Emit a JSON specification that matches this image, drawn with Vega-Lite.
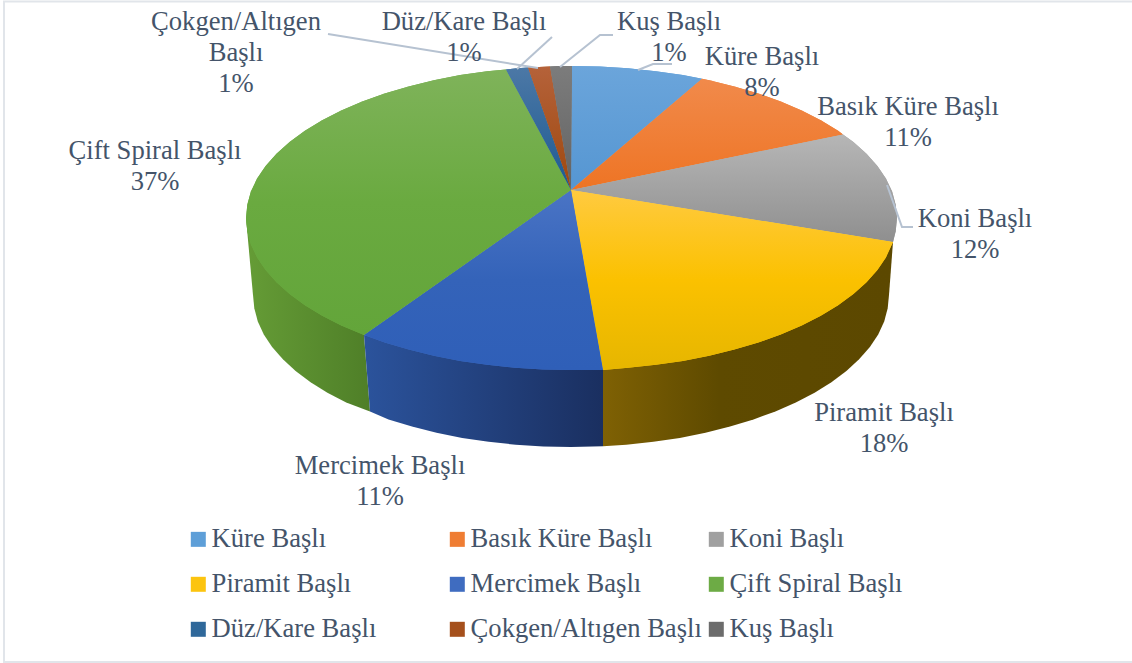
{"$schema":"https://vega.github.io/schema/vega-lite/v6.json","width":1132,"height":663,"padding":0,"autosize":{"type":"none"},"background":"white","config":{"view":{"stroke":null},"font":"Liberation Serif"},
"datasets":{
"walls":[
{"s":"Çift","n":1,"x":246,"y":218},{"s":"Çift","n":2,"x":253,"y":295},{"s":"Çift","n":3,"x":254.3,"y":308.2},{"s":"Çift","n":4,"x":257.8,"y":321.4},{"s":"Çift","n":5,"x":263.8,"y":334.4},{"s":"Çift","n":6,"x":272.1,"y":347},{"s":"Çift","n":7,"x":282.9,"y":359.3},{"s":"Çift","n":8,"x":295.6,"y":371},{"s":"Çift","n":9,"x":310.6,"y":382.2},{"s":"Çift","n":10,"x":327.4,"y":392.7},{"s":"Çift","n":11,"x":346.2,"y":402.5},{"s":"Çift","n":12,"x":370,"y":411.5},{"s":"Çift","n":13,"x":364,"y":335},
{"s":"Mercimek","n":1,"x":364,"y":335},{"s":"Mercimek","n":2,"x":370,"y":411.5},{"s":"Mercimek","n":3,"x":388.5,"y":419.5},{"s":"Mercimek","n":4,"x":412,"y":426.6},{"s":"Mercimek","n":5,"x":436.5,"y":432.7},{"s":"Mercimek","n":6,"x":462.2,"y":437.9},{"s":"Mercimek","n":7,"x":488.6,"y":441.8},{"s":"Mercimek","n":8,"x":515.7,"y":444.7},{"s":"Mercimek","n":9,"x":543.3,"y":446.4},{"s":"Mercimek","n":10,"x":571,"y":447},{"s":"Mercimek","n":11,"x":603,"y":446.2},{"s":"Mercimek","n":12,"x":603,"y":370},
{"s":"Piramit","n":1,"x":603,"y":370},{"s":"Piramit","n":2,"x":603,"y":446.2},{"s":"Piramit","n":3,"x":626.3,"y":444.7},{"s":"Piramit","n":4,"x":653.4,"y":441.8},{"s":"Piramit","n":5,"x":679.8,"y":437.9},{"s":"Piramit","n":6,"x":705.5,"y":432.7},{"s":"Piramit","n":7,"x":730,"y":426.6},{"s":"Piramit","n":8,"x":753.5,"y":419.5},{"s":"Piramit","n":9,"x":775.4,"y":411.4},{"s":"Piramit","n":10,"x":795.8,"y":402.5},{"s":"Piramit","n":11,"x":814.6,"y":392.7},{"s":"Piramit","n":12,"x":831.4,"y":382.2},{"s":"Piramit","n":13,"x":846.4,"y":371},{"s":"Piramit","n":14,"x":859.1,"y":359.3},{"s":"Piramit","n":15,"x":869.9,"y":347},{"s":"Piramit","n":16,"x":878.2,"y":334.4},{"s":"Piramit","n":17,"x":884.2,"y":321.4},{"s":"Piramit","n":18,"x":887.7,"y":308.2},{"s":"Piramit","n":19,"x":889,"y":295},{"s":"Piramit","n":20,"x":893,"y":242}
],
"tops":[
{"s":"Küre Başlı","n":0,"x":571,"y":190},{"s":"Küre Başlı","n":1,"x":572,"y":66},{"s":"Küre Başlı","n":2,"x":599.8,"y":66.6},{"s":"Küre Başlı","n":3,"x":628,"y":68.3},{"s":"Küre Başlı","n":4,"x":655.8,"y":71.2},{"s":"Küre Başlı","n":5,"x":682.8,"y":75.1},{"s":"Küre Başlı","n":6,"x":702,"y":78.8},
{"s":"Basık Küre Başlı","n":0,"x":571,"y":190},{"s":"Basık Küre Başlı","n":1,"x":702,"y":78.8},{"s":"Basık Küre Başlı","n":2,"x":709.2,"y":80.3},{"s":"Basık Küre Başlı","n":3,"x":734.3,"y":86.4},{"s":"Basık Küre Başlı","n":4,"x":758.3,"y":93.5},{"s":"Basık Küre Başlı","n":5,"x":780.7,"y":101.6},{"s":"Basık Küre Başlı","n":6,"x":801.7,"y":110.5},{"s":"Basık Küre Başlı","n":7,"x":820.8,"y":120.3},{"s":"Basık Küre Başlı","n":8,"x":838.1,"y":130.8},{"s":"Basık Küre Başlı","n":9,"x":843,"y":134.5},
{"s":"Koni Başlı","n":0,"x":571,"y":190},{"s":"Koni Başlı","n":1,"x":843,"y":134.5},{"s":"Koni Başlı","n":2,"x":853.4,"y":142},{"s":"Koni Başlı","n":3,"x":866.5,"y":153.7},{"s":"Koni Başlı","n":4,"x":877.4,"y":166},{"s":"Koni Başlı","n":5,"x":885.9,"y":178.6},{"s":"Koni Başlı","n":6,"x":892.1,"y":191.6},{"s":"Koni Başlı","n":7,"x":895.7,"y":204.8},{"s":"Koni Başlı","n":8,"x":897,"y":218},{"s":"Koni Başlı","n":9,"x":895.7,"y":231.2},{"s":"Koni Başlı","n":10,"x":893,"y":242},
{"s":"Piramit Başlı","n":0,"x":571,"y":190},{"s":"Piramit Başlı","n":1,"x":893,"y":242},{"s":"Piramit Başlı","n":2,"x":885.9,"y":257.4},{"s":"Piramit Başlı","n":3,"x":877.4,"y":270},{"s":"Piramit Başlı","n":4,"x":866.5,"y":282.3},{"s":"Piramit Başlı","n":5,"x":853.4,"y":294},{"s":"Piramit Başlı","n":6,"x":838.1,"y":305.2},{"s":"Piramit Başlı","n":7,"x":820.8,"y":315.7},{"s":"Piramit Başlı","n":8,"x":801.7,"y":325.5},{"s":"Piramit Başlı","n":9,"x":780.7,"y":334.4},{"s":"Piramit Başlı","n":10,"x":758.3,"y":342.5},{"s":"Piramit Başlı","n":11,"x":734.3,"y":349.6},{"s":"Piramit Başlı","n":12,"x":709.2,"y":355.7},{"s":"Piramit Başlı","n":13,"x":682.8,"y":360.9},{"s":"Piramit Başlı","n":14,"x":655.8,"y":364.8},{"s":"Piramit Başlı","n":15,"x":628,"y":367.7},{"s":"Piramit Başlı","n":16,"x":603,"y":370},
{"s":"Mercimek Başlı","n":0,"x":571,"y":190},{"s":"Mercimek Başlı","n":1,"x":603,"y":370},{"s":"Mercimek Başlı","n":2,"x":571.5,"y":370},{"s":"Mercimek Başlı","n":3,"x":543.2,"y":369.4},{"s":"Mercimek Başlı","n":4,"x":515,"y":367.7},{"s":"Mercimek Başlı","n":5,"x":487.2,"y":364.8},{"s":"Mercimek Başlı","n":6,"x":460.2,"y":360.9},{"s":"Mercimek Başlı","n":7,"x":433.8,"y":355.7},{"s":"Mercimek Başlı","n":8,"x":408.7,"y":349.6},{"s":"Mercimek Başlı","n":9,"x":384.7,"y":342.5},{"s":"Mercimek Başlı","n":10,"x":364,"y":335},
{"s":"Çift Spiral Başlı","n":0,"x":571,"y":190},{"s":"Çift Spiral Başlı","n":1,"x":364,"y":335},{"s":"Çift Spiral Başlı","n":2,"x":341.3,"y":325.5},{"s":"Çift Spiral Başlı","n":3,"x":322.2,"y":315.7},{"s":"Çift Spiral Başlı","n":4,"x":304.9,"y":305.2},{"s":"Çift Spiral Başlı","n":5,"x":289.6,"y":294},{"s":"Çift Spiral Başlı","n":6,"x":276.5,"y":282.3},{"s":"Çift Spiral Başlı","n":7,"x":265.6,"y":270},{"s":"Çift Spiral Başlı","n":8,"x":257.1,"y":257.4},{"s":"Çift Spiral Başlı","n":9,"x":250.9,"y":244.4},{"s":"Çift Spiral Başlı","n":10,"x":247.3,"y":231.2},{"s":"Çift Spiral Başlı","n":11,"x":246,"y":218},{"s":"Çift Spiral Başlı","n":12,"x":247.3,"y":204.8},{"s":"Çift Spiral Başlı","n":13,"x":250.9,"y":191.6},{"s":"Çift Spiral Başlı","n":14,"x":257.1,"y":178.6},{"s":"Çift Spiral Başlı","n":15,"x":265.6,"y":166},{"s":"Çift Spiral Başlı","n":16,"x":276.5,"y":153.7},{"s":"Çift Spiral Başlı","n":17,"x":289.6,"y":142},{"s":"Çift Spiral Başlı","n":18,"x":304.9,"y":130.8},{"s":"Çift Spiral Başlı","n":19,"x":322.2,"y":120.3},{"s":"Çift Spiral Başlı","n":20,"x":341.3,"y":110.5},{"s":"Çift Spiral Başlı","n":21,"x":362.3,"y":101.6},{"s":"Çift Spiral Başlı","n":22,"x":384.7,"y":93.5},{"s":"Çift Spiral Başlı","n":23,"x":408.7,"y":86.4},{"s":"Çift Spiral Başlı","n":24,"x":433.8,"y":80.3},{"s":"Çift Spiral Başlı","n":25,"x":460.2,"y":75.1},{"s":"Çift Spiral Başlı","n":26,"x":487.2,"y":71.2},{"s":"Çift Spiral Başlı","n":27,"x":506,"y":69.5},
{"s":"Düz/Kare Başlı","n":0,"x":571,"y":190},{"s":"Düz/Kare Başlı","n":1,"x":506,"y":69.5},{"s":"Düz/Kare Başlı","n":2,"x":517,"y":68.2},{"s":"Düz/Kare Başlı","n":3,"x":528,"y":67.5},
{"s":"Çokgen/Altıgen Başlı","n":0,"x":571,"y":190},{"s":"Çokgen/Altıgen Başlı","n":1,"x":528,"y":67.5},{"s":"Çokgen/Altıgen Başlı","n":2,"x":539,"y":66.9},{"s":"Çokgen/Altıgen Başlı","n":3,"x":550,"y":66.5},
{"s":"Kuş Başlı","n":0,"x":571,"y":190},{"s":"Kuş Başlı","n":1,"x":550,"y":66.5},{"s":"Kuş Başlı","n":2,"x":561,"y":66.1},{"s":"Kuş Başlı","n":3,"x":572,"y":66}
],
"leaders":[
{"s":"Kuş","n":1,"x":613,"y":35},{"s":"Kuş","n":2,"x":600,"y":35},{"s":"Kuş","n":3,"x":560,"y":67},
{"s":"Düz","n":1,"x":552,"y":37},{"s":"Düz","n":2,"x":517,"y":69},
{"s":"Çokgen","n":1,"x":328,"y":34},{"s":"Çokgen","n":2,"x":538,"y":68},
{"s":"Küre","n":1,"x":672,"y":64},{"s":"Küre","n":2,"x":653,"y":64},{"s":"Küre","n":3,"x":638,"y":70},
{"s":"Koni","n":1,"x":887,"y":185},{"s":"Koni","n":2,"x":902,"y":227},{"s":"Koni","n":3,"x":913,"y":227}
],
"borders":[
{"s":"a","n":1,"x":1132,"y":1.5},{"s":"a","n":2,"x":4,"y":1.5},{"s":"a","n":3,"x":4,"y":662},{"s":"a","n":4,"x":1132,"y":662}
],
"labels":[
{"t":"Çokgen/Altıgen\nBaşlı\n1%","x":236,"y":22},
{"t":"Düz/Kare Başlı\n1%","x":464,"y":22},
{"t":"Kuş Başlı\n1%","x":669,"y":22},
{"t":"Küre Başlı\n8%","x":762,"y":57},
{"t":"Basık Küre Başlı\n11%","x":908,"y":107},
{"t":"Koni Başlı\n12%","x":975,"y":219},
{"t":"Piramit Başlı\n18%","x":884,"y":413},
{"t":"Mercimek Başlı\n11%","x":380,"y":466},
{"t":"Çift Spiral Başlı\n37%","x":155,"y":151}
]},
"encoding":{"x":{"field":"x","type":"quantitative","axis":null,"scale":{"domain":[0,1132],"nice":false,"zero":false}},"y":{"field":"y","type":"quantitative","axis":null,"scale":{"domain":[0,663],"nice":false,"zero":false,"reverse":true}},"order":{"field":"n"}},
"layer":[
{"data":{"name":"borders"},"mark":{"type":"line","stroke":"#e1e5ea","strokeWidth":2}},
{"data":{"name":"walls"},"transform":[{"filter":"datum.s=='Çift'"}],"mark":{"type":"line","filled":true,"strokeWidth":0,"fill":{"gradient":"linear","x1":0,"y1":0,"x2":1,"y2":0,"stops":[{"offset":0,"color":"#659c36"},{"offset":1,"color":"#4f7f28"}]}}},
{"data":{"name":"walls"},"transform":[{"filter":"datum.s=='Mercimek'"}],"mark":{"type":"line","filled":true,"strokeWidth":0,"fill":{"gradient":"linear","x1":0,"y1":0,"x2":1,"y2":0,"stops":[{"offset":0,"color":"#2b539c"},{"offset":1,"color":"#1a2f60"}]}}},
{"data":{"name":"walls"},"transform":[{"filter":"datum.s=='Piramit'"}],"mark":{"type":"line","filled":true,"strokeWidth":0,"fill":{"gradient":"linear","x1":0,"y1":0,"x2":1,"y2":0,"stops":[{"offset":0,"color":"#7f6104"},{"offset":0.4,"color":"#5e4a00"},{"offset":1,"color":"#5c4800"}]}}},
{"data":{"name":"tops"},"mark":{"type":"line","filled":true,"strokeWidth":0},"encoding":{"color":{"field":"s","title":null,
"legend":{"orient":"none","legendX":185,"legendY":526,"columns":3,"direction":"horizontal","symbolType":"square","symbolSize":225,"symbolStrokeWidth":0,"labelFont":"Liberation Serif","labelFontSize":26.6,"labelColor":"#44546a","labelOffset":0,"gridAlign":"all","columnPadding":1,"rowPadding":18,"labelLimit":400,"padding":0},
"scale":{"domain":["Küre Başlı","Basık Küre Başlı","Koni Başlı","Piramit Başlı","Mercimek Başlı","Çift Spiral Başlı","Düz/Kare Başlı","Çokgen/Altıgen Başlı","Kuş Başlı"],"range":["#5e9fd8","#ef7d33","#a0a0a0","#fcc40f","#3f6cc0","#6dab45","#2f689a","#a5501c","#6c6c6c"]}}}},
{"data":{"name":"tops"},"transform":[{"filter":"datum.s=='Küre Başlı'"}],"mark":{"type":"line","filled":true,"strokeWidth":0,"fill":{"gradient":"linear","x1":0,"y1":0,"x2":0,"y2":1,"stops":[{"offset":0,"color":"#6ba5db"},{"offset":1,"color":"#5596d2"}]}}},
{"data":{"name":"tops"},"transform":[{"filter":"datum.s=='Basık Küre Başlı'"}],"mark":{"type":"line","filled":true,"strokeWidth":0,"fill":{"gradient":"linear","x1":0,"y1":0,"x2":0,"y2":1,"stops":[{"offset":0,"color":"#f18a4b"},{"offset":1,"color":"#ee7424"}]}}},
{"data":{"name":"tops"},"transform":[{"filter":"datum.s=='Koni Başlı'"}],"mark":{"type":"line","filled":true,"strokeWidth":0,"fill":{"gradient":"linear","x1":0,"y1":0,"x2":0,"y2":1,"stops":[{"offset":0,"color":"#b6b6b6"},{"offset":1,"color":"#8f8f8f"}]}}},
{"data":{"name":"tops"},"transform":[{"filter":"datum.s=='Piramit Başlı'"}],"mark":{"type":"line","filled":true,"strokeWidth":0,"fill":{"gradient":"linear","x1":0,"y1":0,"x2":0,"y2":1,"stops":[{"offset":0,"color":"#ffca40"},{"offset":0.5,"color":"#fbc100"},{"offset":1,"color":"#e6b600"}]}}},
{"data":{"name":"tops"},"transform":[{"filter":"datum.s=='Mercimek Başlı'"}],"mark":{"type":"line","filled":true,"strokeWidth":0,"fill":{"gradient":"linear","x1":0,"y1":0,"x2":0,"y2":1,"stops":[{"offset":0,"color":"#4a74c5"},{"offset":0.5,"color":"#3463b9"},{"offset":1,"color":"#2f5fb8"}]}}},
{"data":{"name":"tops"},"transform":[{"filter":"datum.s=='Çift Spiral Başlı'"}],"mark":{"type":"line","filled":true,"strokeWidth":0,"fill":{"gradient":"linear","x1":0,"y1":0,"x2":0,"y2":1,"stops":[{"offset":0,"color":"#7fb35a"},{"offset":0.5,"color":"#6aaa40"},{"offset":1,"color":"#63a53a"}]}}},
{"data":{"name":"tops"},"transform":[{"filter":"datum.s=='Düz/Kare Başlı'"}],"mark":{"type":"line","filled":true,"strokeWidth":0,"fill":{"gradient":"linear","x1":0,"y1":0,"x2":0,"y2":1,"stops":[{"offset":0,"color":"#4c78a6"},{"offset":1,"color":"#1d5a92"}]}}},
{"data":{"name":"tops"},"transform":[{"filter":"datum.s=='Çokgen/Altıgen Başlı'"}],"mark":{"type":"line","filled":true,"strokeWidth":0,"fill":{"gradient":"linear","x1":0,"y1":0,"x2":0,"y2":1,"stops":[{"offset":0,"color":"#b5623a"},{"offset":1,"color":"#9e480e"}]}}},
{"data":{"name":"tops"},"transform":[{"filter":"datum.s=='Kuş Başlı'"}],"mark":{"type":"line","filled":true,"strokeWidth":0,"fill":{"gradient":"linear","x1":0,"y1":0,"x2":0,"y2":1,"stops":[{"offset":0,"color":"#7c7c7c"},{"offset":1,"color":"#636363"}]}}},
{"data":{"name":"leaders"},"mark":{"type":"line","stroke":"#b6c2d1","strokeWidth":2},"encoding":{"detail":{"field":"s"}}},
{"data":{"name":"labels"},"mark":{"type":"text","font":"Liberation Serif","fontSize":26.6,"color":"#44546a","align":"center","baseline":"middle","lineBreak":"\n","lineHeight":31},"encoding":{"text":{"field":"t"},"order":null}}
]}
